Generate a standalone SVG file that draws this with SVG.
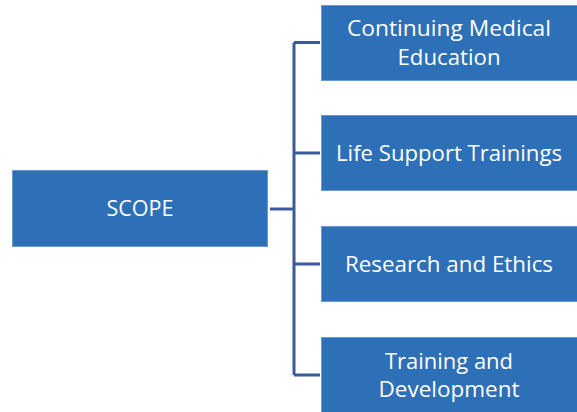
<svg xmlns="http://www.w3.org/2000/svg" width="577" height="412" viewBox="0 0 577 412">
<style>
.box{fill:#2E70B7;stroke:#6A9AD6;stroke-width:1}
.lbl{fill:#FFFFFF;font-family:"Open Sans","Liberation Sans",sans-serif;font-size:22px;text-anchor:middle}
.conn{fill:none;stroke:#3A5A9E;stroke-width:3}
</style>
<rect width="577" height="412" fill="#FFFFFF"/>
<g id="connectors">
<path class="conn" d="M270 209 H294"/>
<path class="conn" d="M294 42.5 V375"/>
<path class="conn" d="M294 42.5 H320 M294 153 H320 M294 264 H320 M294 375 H320"/>
</g>
<g id="scope">
<rect class="box" x="12.5" y="170.5" width="255" height="76"/>
<text class="lbl" x="140" y="216" textLength="67" lengthAdjust="spacingAndGlyphs">SCOPE</text>
</g>
<g id="cme">
<rect class="box" x="321.5" y="5.5" width="258" height="75"/>
<text class="lbl" x="449" y="36" textLength="204" lengthAdjust="spacingAndGlyphs">Continuing Medical</text>
<text class="lbl" x="449" y="64.5" textLength="103" lengthAdjust="spacingAndGlyphs">Education</text>
</g>
<g id="life-support">
<rect class="box" x="321.5" y="115.5" width="258" height="75"/>
<text class="lbl" x="449" y="161" textLength="226" lengthAdjust="spacingAndGlyphs">Life Support Trainings</text>
</g>
<g id="research">
<rect class="box" x="321.5" y="226.5" width="258" height="75"/>
<text class="lbl" x="449" y="272" textLength="208" lengthAdjust="spacingAndGlyphs">Research and Ethics</text>
</g>
<g id="training">
<rect class="box" x="321.5" y="337.5" width="258" height="75"/>
<text class="lbl" x="449" y="368.5" textLength="128" lengthAdjust="spacingAndGlyphs">Training and</text>
<text class="lbl" x="449" y="396.5" textLength="141" lengthAdjust="spacingAndGlyphs">Development</text>
</g>
</svg>
